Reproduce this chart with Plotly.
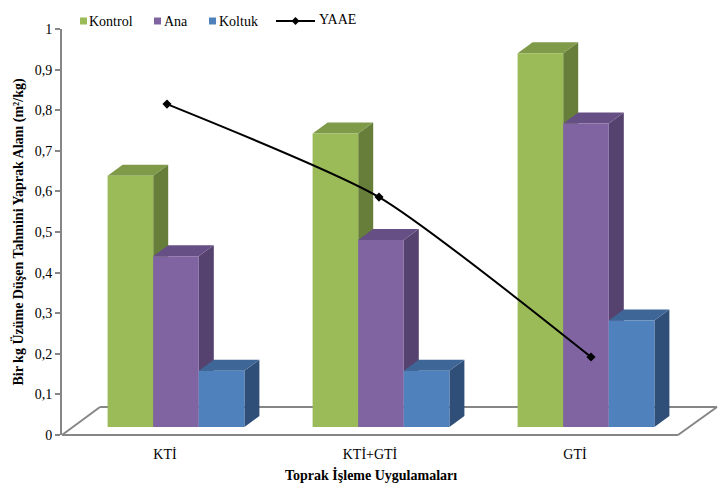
import plotly.graph_objects as go

categories = ["KTİ", "KTİ+GTİ", "GTİ"]
series_names = ["Kontrol", "Ana", "Koltuk"]
kontrol = [0.625, 0.73, 0.93]
ana = [0.425, 0.465, 0.755]
koltuk = [0.14, 0.14, 0.265]
yaae = [0.815, 0.586, 0.192]
y_ticks = [0, 0.1, 0.2, 0.3, 0.4, 0.5, 0.6, 0.7, 0.8, 0.9, 1]
y_labels = ["0", "0,1", "0,2", "0,3", "0,4", "0,5", "0,6", "0,7", "0,8", "0,9", "1"]

W, H = 722, 488
L, R, T, B = 62, 717, 29, 435
FONT = "Liberation Serif"
GRAY = "#868686"

def px(x):
    return (x - L) / (R - L)

def py(y):
    return (B - y) / (B - T)

# bar geometry, in axis units (category spacing = 205 px)
unit = 205
bar_w = 45.6 / unit
dep_x = 15 / unit
dep_y = 11 / (B - T)
base = 8 / (B - T)
scale = 0.99
styles = [
    ("#9BBB59", "#7F9A48", "#677D3A"),
    ("#8064A2", "#664F84", "#55426E"),
    ("#4F81BD", "#3E6696", "#2F4F79"),
]

fig = go.Figure()
for s, (name, vals, st) in enumerate(zip(series_names, [kontrol, ana, koltuk], styles)):
    for i, v in enumerate(vals):
        x0 = i - 1.5 * bar_w + s * bar_w
        x1 = x0 + bar_w
        top = base + v * scale
        polys = [
            (st[2], [x1, x1 + dep_x, x1 + dep_x, x1], [base, base + dep_y, top + dep_y, top]),
            (st[1], [x0, x0 + dep_x, x1 + dep_x, x1], [top, top + dep_y, top + dep_y, top]),
            (st[0], [x0, x1, x1, x0], [base, base, top, top]),
        ]
        for col, xs, ys in polys:
            fig.add_trace(go.Scatter(
                x=xs, y=ys, fill="toself", fillcolor=col, mode="lines",
                line=dict(width=0, color=col), name=name, showlegend=False,
                hoverinfo="skip",
            ))

fig.add_trace(go.Scatter(
    x=[0, 1, 2], y=yaae, xaxis="x2", mode="lines+markers", name="YAAE",
    line=dict(color="#000000", width=2, shape="spline", smoothing=0.6),
    marker=dict(symbol="diamond", size=7, color="#000000"), showlegend=False,
))

shapes = []
# floor
floor = [(62, 435), (678, 435), (717, 407), (100, 407), (62, 435)]
for (a, b), (c, d) in zip(floor[:-1], floor[1:]):
    shapes.append(dict(type="line", xref="paper", yref="paper", layer="below",
                       x0=px(a), y0=py(b), x1=px(c), y1=py(d),
                       line=dict(color=GRAY, width=2)))

# legend
annotations = []
leg_y = 21
for name, col, sx, tx in [("Kontrol", "#9BBB59", 80, 87), ("Ana", "#8064A2", 154, 162),
                          ("Koltuk", "#4F81BD", 209, 217)]:
    shapes.append(dict(type="rect", xref="paper", yref="paper",
                       x0=px(sx), x1=px(sx + 7), y0=py(leg_y + 3.5), y1=py(leg_y - 3.5),
                       fillcolor=col, line=dict(width=0)))
    annotations.append(dict(text=name, xref="paper", yref="paper", x=px(tx), y=py(leg_y),
                            xanchor="left", yanchor="middle", showarrow=False,
                            font=dict(family=FONT, size=14, color="#000000")))
shapes.append(dict(type="line", xref="paper", yref="paper", x0=px(276), x1=px(315),
                   y0=py(21), y1=py(21), line=dict(color="#000000", width=2)))
shapes.append(dict(type="path", xref="paper", yref="paper",
                   path=f"M{px(291.5)},{py(21)} L{px(295.5)},{py(17)} L{px(299.5)},{py(21)} L{px(295.5)},{py(25)} Z",
                   fillcolor="#000000", line=dict(width=0)))
annotations.append(dict(text="YAAE", xref="paper", yref="paper", x=px(317), y=py(20),
                        xanchor="left", yanchor="middle", showarrow=False,
                        font=dict(family=FONT, size=14, color="#000000")))
annotations.append(dict(text="<b>Toprak İşleme Uygulamaları</b>", xref="paper", yref="paper",
                        x=px(371), y=py(475), xanchor="center", yanchor="middle", showarrow=False,
                        font=dict(family=FONT, size=14, color="#000000")))

fig.update_layout(
    width=W, height=H, autosize=False,
    margin=dict(l=L, r=W - R, t=T, b=H - B, pad=0),
    paper_bgcolor="#FFFFFF", plot_bgcolor="#FFFFFF",
    showlegend=False, shapes=shapes, annotations=annotations,
    font=dict(family=FONT, size=14, color="#000000"),
    xaxis=dict(range=[(L - 176) / unit, (R - 176) / unit], showgrid=False, zeroline=False,
               showline=False, ticks="", tickmode="array", ticklabelstandoff=9,
               tickvals=[i - 11 / unit for i in range(len(categories))], ticktext=categories,
               tickfont=dict(family=FONT, size=14)),
    xaxis2=dict(range=[(L - 167) / 212, (R - 167) / 212], overlaying="x", visible=False),
    yaxis=dict(range=[0, 1], tickmode="array", tickvals=y_ticks, ticktext=y_labels,
               showgrid=False, zeroline=False, showline=True, linecolor=GRAY, linewidth=2,
               ticks="outside", ticklen=5, tickwidth=2, tickcolor=GRAY,
               tickfont=dict(family=FONT, size=14),
               title=dict(text="<b>Bir kg Üzüme Düşen Tahmini Yaprak Alanı (m²/kg)</b>",
                          font=dict(family=FONT, size=14), standoff=8)),
)
fig.write_html("out.html", config=dict(displayModeBar=False),
               post_script="document.body.style.margin='0';document.body.style.overflow='hidden';")
